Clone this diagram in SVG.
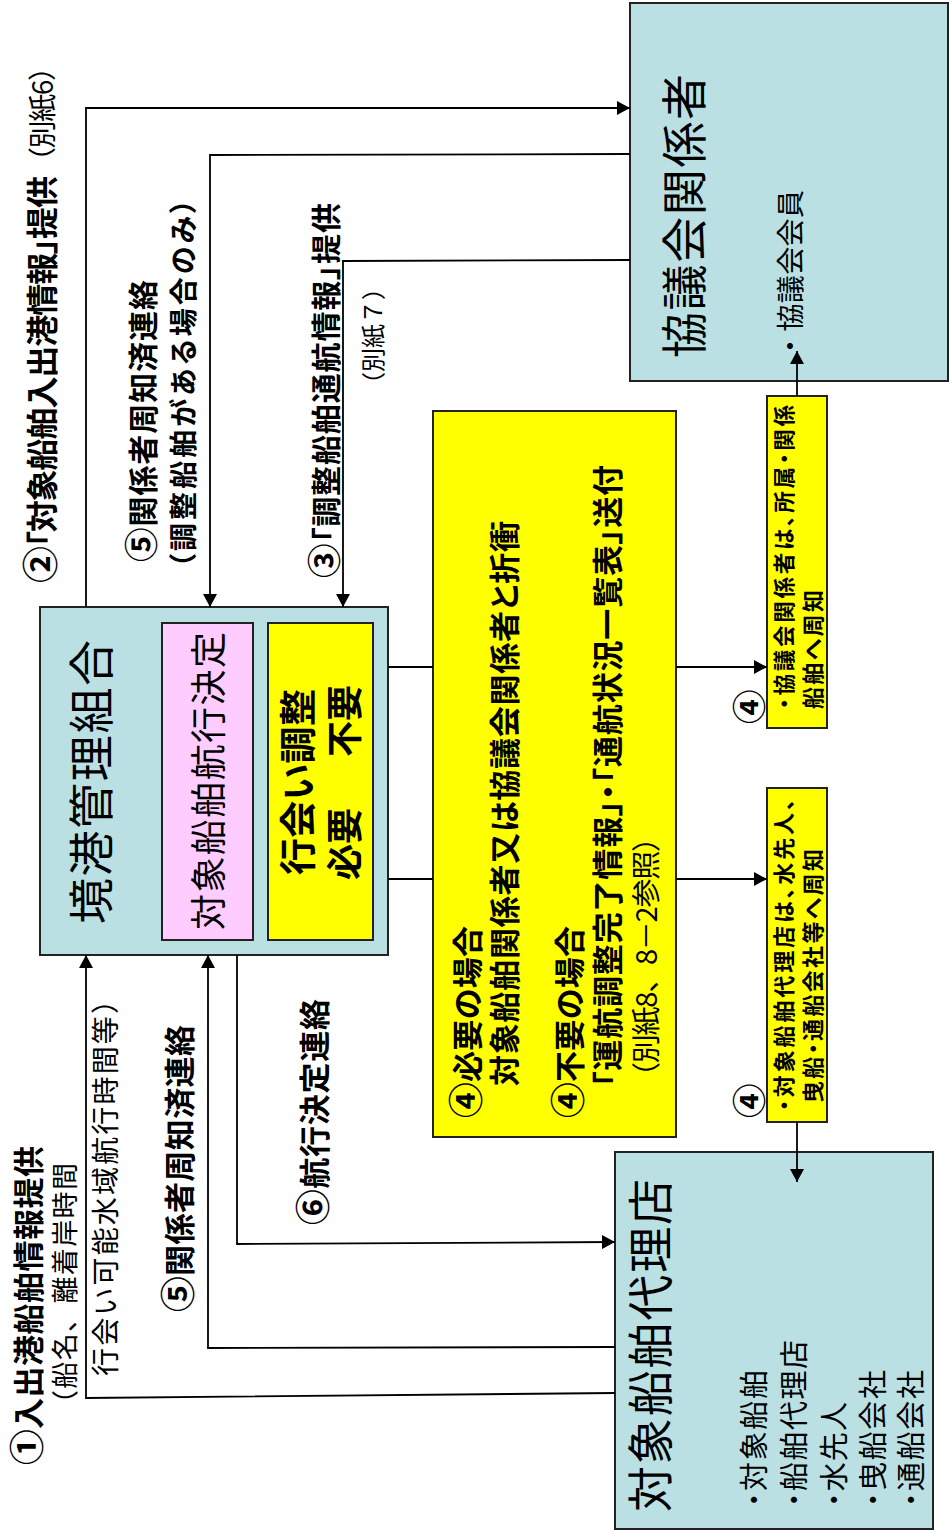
<svg xmlns="http://www.w3.org/2000/svg" width="949" height="1534" viewBox="0 0 949 1534">
<defs>
<marker id="arr" markerUnits="userSpaceOnUse" markerWidth="14" markerHeight="14" refX="13" refY="7" orient="auto">
<path d="M0,0 L13,7 L0,14 z" fill="#000"/>
</marker>
<style>
.box{stroke:#222;stroke-width:2}
.blue{fill:#BAE0E3}
.pink{fill:#FFCCFF}
.yel{fill:#FFFF00}
.ln{fill:none;stroke:#000;stroke-width:1.8}
.ar{fill:none;stroke:#000;stroke-width:1.8;marker-end:url(#arr)}
text{font-family:"Noto Sans CJK JP","Noto Sans CJK SC",sans-serif;fill:#000}
.b{font-weight:bold;font-feature-settings:"palt"}
.n{font-weight:normal}
.np{font-weight:normal;font-feature-settings:normal}
.p{font-weight:normal;font-feature-settings:"palt"}
.c{font-size:1.15em}
</style>
</defs>
<rect width="949" height="1534" fill="#fff"/>

<g id="kyogikai">
<rect class="box blue" x="630" y="3" width="318" height="378"/>
<text class="n" font-size="46" textLength="284" lengthAdjust="spacing" transform="translate(701,358) rotate(-90)">協議会関係者</text>
<text class="n" font-size="28" textLength="170" lengthAdjust="spacing" transform="translate(801,360) rotate(-90)">・協議会会員</text>
</g>

<g id="sakaiminato">
<rect class="box blue" x="40" y="607" width="348" height="348"/>
<text class="n" font-size="46" textLength="284" lengthAdjust="spacing" transform="translate(108,924) rotate(-90)">境港管理組合</text>
</g>

<g id="decision">
<rect class="box pink" x="162" y="623" width="91" height="317"/>
<text class="n" font-size="36" textLength="298" lengthAdjust="spacing" transform="translate(222,930) rotate(-90)">対象船舶航行決定</text>
</g>

<g id="adjust">
<rect class="box yel" x="268" y="623" width="105" height="317"/>
<text class="b" font-size="37" textLength="186" lengthAdjust="spacing" transform="translate(312,875) rotate(-90)">行会い調整</text>
<text class="b" font-size="36" transform="translate(358,880) rotate(-90)">必要</text>
<text class="b" font-size="36" transform="translate(358,757) rotate(-90)">不要</text>
</g>

<g id="cases">
<rect class="box yel" x="433" y="411" width="243" height="726"/>
<text class="b" font-size="31" textLength="192" lengthAdjust="spacing" transform="translate(479,1118) rotate(-90)"><tspan class="c">④</tspan>必要の場合</text>
<text class="b" font-size="31" textLength="565" lengthAdjust="spacing" transform="translate(516,1086) rotate(-90)">対象船舶関係者又は協議会関係者と折衝</text>
<text class="b" font-size="31" textLength="192" lengthAdjust="spacing" transform="translate(581,1118) rotate(-90)"><tspan class="c">④</tspan>不要の場合</text>
<text class="b" font-size="31" textLength="622" lengthAdjust="spacing" transform="translate(619,1087) rotate(-90)">「運航調整完了情報」・「通航状況一覧表」送付</text>
<text class="np" font-size="29" textLength="268" lengthAdjust="spacing" transform="translate(657,1091) rotate(-90)">（別紙8、8－2参照）</text>
</g>

<g id="notice-kyogikai">
<rect class="box yel" x="767" y="396" width="60" height="332"/>
<text class="b" font-size="21.5" textLength="304" lengthAdjust="spacing" transform="translate(792,709) rotate(-90)">・協議会関係者は、所属・関係</text>
<text class="b" font-size="22" textLength="119" lengthAdjust="spacing" transform="translate(821,709) rotate(-90)">船舶へ周知</text>
<text class="b" font-size="30" transform="translate(762,724) rotate(-90)"><tspan class="c">④</tspan></text>
</g>

<g id="notice-agent">
<rect class="box yel" x="767" y="788" width="60" height="334"/>
<text class="b" font-size="22" textLength="312" lengthAdjust="spacing" transform="translate(792,1111) rotate(-90)">・対象船舶代理店は、水先人、</text>
<text class="b" font-size="22" textLength="254" lengthAdjust="spacing" transform="translate(821,1103) rotate(-90)">曳船・通船会社等へ周知</text>
<text class="b" font-size="30" transform="translate(762,1118) rotate(-90)"><tspan class="c">④</tspan></text>
</g>

<g id="agent">
<rect class="box blue" x="615" y="1152" width="318" height="377"/>
<text class="n" font-size="46" textLength="333" lengthAdjust="spacing" transform="translate(667,1512) rotate(-90)">対象船舶代理店</text>
<text class="p" font-size="29" textLength="137" lengthAdjust="spacing" transform="translate(765,1507) rotate(-90)">・対象船舶</text>
<text class="p" font-size="29" textLength="167" lengthAdjust="spacing" transform="translate(805,1507) rotate(-90)">・船舶代理店</text>
<text class="p" font-size="29" textLength="105" lengthAdjust="spacing" transform="translate(845,1507) rotate(-90)">・水先人</text>
<text class="p" font-size="29" textLength="137" lengthAdjust="spacing" transform="translate(884,1507) rotate(-90)">・曳船会社</text>
<text class="p" font-size="29" textLength="137" lengthAdjust="spacing" transform="translate(922,1507) rotate(-90)">・通船会社</text>
</g>

<g id="connectors">
<polyline class="ar" points="86,607 86,108 630,108"/>
<polyline class="ar" points="630,154 210,155 210,607"/>
<polyline class="ar" points="630,260 343,261 343,607"/>
<line class="ln" x1="388" y1="667" x2="433" y2="667"/>
<line class="ar" x1="676" y1="667" x2="767" y2="667"/>
<line class="ln" x1="388" y1="879" x2="433" y2="879"/>
<line class="ar" x1="676" y1="879" x2="767" y2="879"/>
<polyline class="ar" points="237,955 237,1244 615,1242"/>
<polyline class="ar" points="615,1347 208,1348 208,955"/>
<polyline class="ar" points="615,1393 86,1398 86,955"/>
<line class="ar" x1="797" y1="396" x2="797" y2="351"/>
<line class="ar" x1="797" y1="1122" x2="797" y2="1182"/>
</g>

<g id="labels">
<text class="b" font-size="32" textLength="407" lengthAdjust="spacing" transform="translate(54,583) rotate(-90)"><tspan class="c">②</tspan>「対象船舶入出港情報」提供</text>
<text class="np" font-size="28" textLength="122" lengthAdjust="spacing" transform="translate(53,175) rotate(-90)">（別紙6）</text>
<text class="b" font-size="30" textLength="282" lengthAdjust="spacing" transform="translate(154,562) rotate(-90)"><tspan class="c">⑤</tspan>関係者周知済連絡</text>
<text class="b" font-size="28" textLength="369" lengthAdjust="spacing" transform="translate(194,568) rotate(-90)">（調整船舶がある場合のみ）</text>
<text class="b" font-size="30" textLength="375" lengthAdjust="spacing" transform="translate(337,578) rotate(-90)"><tspan class="c">③</tspan>「調整船舶通航情報」提供</text>
<text class="np" font-size="24" textLength="120" lengthAdjust="spacing" transform="translate(382,396) rotate(-90)">（別紙７）</text>
<text class="b" font-size="31" textLength="319" lengthAdjust="spacing" transform="translate(40,1465) rotate(-90)"><tspan class="c">①</tspan>入出港船舶情報提供</text>
<text class="np" font-size="27" textLength="254" lengthAdjust="spacing" transform="translate(75,1417) rotate(-90)">（船名、離着岸時間</text>
<text class="np" font-size="28" textLength="390" lengthAdjust="spacing" transform="translate(116,1376) rotate(-90)">行会い可能水域航行時間等）</text>
<text class="b" font-size="31" textLength="287" lengthAdjust="spacing" transform="translate(191,1312) rotate(-90)"><tspan class="c">⑤</tspan>関係者周知済連絡</text>
<text class="b" font-size="31" textLength="226" lengthAdjust="spacing" transform="translate(326,1225) rotate(-90)"><tspan class="c">⑥</tspan>航行決定連絡</text>
</g>
</svg>
